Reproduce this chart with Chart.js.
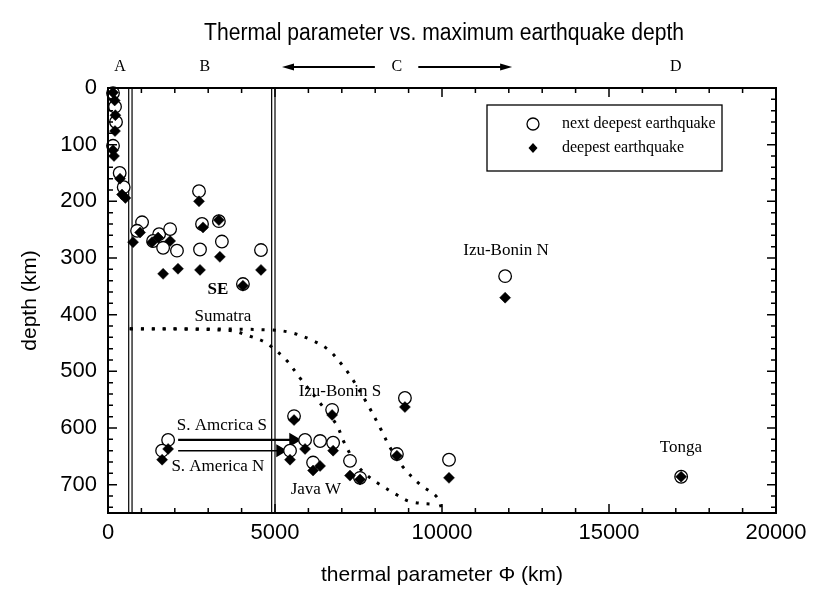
<!DOCTYPE html>
<html><head><meta charset="utf-8">
<script src="https://cdn.jsdelivr.net/npm/chart.js@4.4.0/dist/chart.umd.min.js"></script>
<style>html,body{margin:0;padding:0;background:#fff}#wrap{width:838px;height:612px;position:relative}</style>
</head><body><div id="wrap"><canvas id="c"></canvas></div>
<script>
// ---- data ----
const xTickLabels = ['0','5000','10000','15000','20000'];
const yTickLabels = ['0','100','200','300','400','500','600','700'];
const xMinorStep = 1000;
const yMinorStep = 20;

// next deepest earthquake (open circles): [thermal parameter km, depth km]
const nextDeepest = [
  [150,9],[210,33],[240,60],[150,102],[350,150],[470,175],
  [1020,237],[870,252],[1530,258],[1860,249],[1350,270],[1650,282],[2065,287],
  [2755,285],[3410,271],[4580,286],[3320,235],[2815,240],[2725,182],[4040,346],
  [11890,332],
  [5570,579],[6710,568],[5900,621],[6350,623],[6740,626],[5450,640],[6140,661],
  [7245,658],[7545,688],[8890,547],[8650,646],[10210,656],
  [1800,621],[1620,640],
  [17160,686]
];
// deepest earthquake (filled diamonds)
const deepest = [
  [150,8],[200,22],[220,48],[210,76],[150,110],[180,120],[360,160],[420,188],[520,194],
  [750,272],[960,255],[1320,272],[1500,264],[1860,270],[1650,328],[2095,319],
  [2755,321],[3350,298],[4580,321],[4040,349],[3320,233],[2845,246],[2725,200],
  [11890,370],
  [5570,586],[6710,577],[5900,637],[6740,640],[5450,656],[6140,675],[6350,667],
  [7245,684],[7545,691],[8890,563],[8650,649],[10210,688],
  [1800,637],[1620,656],
  [17160,686]
];
// dotted boundary curves
const curveOuter = [[650,425],[2400,425],[4900,427],[5500,432],[6100,445],[6600,462],[7000,488],[7300,512],[7750,556],[8150,600],[8450,635],[8850,670],[9350,700],[9850,722],[10000,745]];
const curveInner = [[650,425],[3650,428],[4250,438],[4650,447],[4900,457],[5350,481],[5750,512],[6350,556],[6850,595],[7050,623],[7450,665],[7850,688],[8150,700],[8650,718],[9050,730],[9850,735]];
// regime boundaries (double vertical lines)
const boundaryX = [620,720,4900,5000];
// S. America arrows
const arrowS = [[2100,621],[5550,621]];
const arrowN = [[2100,640],[5150,640]];
// text labels [text, x, depth, bold]
const annotations = [
  ['SE',3290,356,true],['Sumatra',3440,404,false],['Izu-Bonin N',11915,286,false],
  ['Izu-Bonin S',6945,535,false],['S. Amcrica S',3410,596,false],['S. America N',3290,668,false],
  ['Java W',6225,709,false],['Tonga',17155,635,false]
];
const regimeLabels = [['A',360],['B',2900],['C',8650],['D',17000]];
const regimeArrows = [[7990,5210],[9290,12100]];

const pts = a => a.map(p => ({x:p[0], y:p[1]}));
const serif = '"Liberation Serif","Times New Roman",serif';
const sans = '"Liberation Sans",Arial,Helvetica,sans-serif';

const datasets = [
  {label:'deepest earthquake', data:pts(deepest), pointStyle:'rectRot', pointRadius:5.5, pointHoverRadius:5.5,
   backgroundColor:'#000', borderColor:'#000', borderWidth:0.5, clip:false},
  {label:'next deepest earthquake', data:pts(nextDeepest), pointStyle:'circle', pointRadius:6.3, pointHoverRadius:6.3,
   backgroundColor:'#fff', borderColor:'#000', borderWidth:1.3, clip:false},
  {type:'line', data:pts(arrowS), borderColor:'#000', borderWidth:2.2, pointStyle:'triangle', pointRadius:[0,6],
   pointRotation:90, pointBackgroundColor:'#000', pointBorderColor:'#000'},
  {type:'line', data:pts(arrowN), borderColor:'#000', borderWidth:1.5, pointStyle:'triangle', pointRadius:[0,6],
   pointRotation:90, pointBackgroundColor:'#000', pointBorderColor:'#000'},
  {type:'line', data:pts(curveOuter), borderColor:'#000', borderWidth:3, borderDash:[3,8], tension:0.35, pointRadius:0},
  {type:'line', data:pts(curveInner), borderColor:'#000', borderWidth:3, borderDash:[3,8], tension:0.35, pointRadius:0}
];
boundaryX.forEach(v => datasets.push({type:'line', data:[{x:v,y:0},{x:v,y:750}], borderColor:'#000', borderWidth:1.2, pointRadius:0}));

const decor = {
  id:'decor',
  afterDraw(chart){
    const ctx = chart.ctx, a = chart.chartArea, xs = chart.scales.x, ys = chart.scales.y;
    ctx.save();
    ctx.strokeStyle = '#000'; ctx.fillStyle = '#000';
    // frame
    ctx.lineWidth = 2;
    ctx.strokeRect(a.left, a.top, a.right - a.left, a.bottom - a.top);
    // ticks
    ctx.lineWidth = 1.5;
    ctx.beginPath();
    for (let v = xs.min; v <= xs.max; v += xMinorStep) {
      const px = xs.getPixelForValue(v), L = (v % 5000 === 0) ? 9 : 5;
      ctx.moveTo(px, a.bottom); ctx.lineTo(px, a.bottom - L);
      ctx.moveTo(px, a.top); ctx.lineTo(px, a.top + L);
    }
    for (let v = ys.min; v <= ys.max; v += yMinorStep) {
      const py = ys.getPixelForValue(v), L = (v % 100 === 0) ? 9 : 5;
      ctx.moveTo(a.left, py); ctx.lineTo(a.left + L, py);
      ctx.moveTo(a.right, py); ctx.lineTo(a.right - L, py);
    }
    ctx.stroke();
    // title
    ctx.textAlign = 'center'; ctx.textBaseline = 'middle';
    ctx.font = '23px ' + sans;
    ctx.fillText('Thermal parameter vs. maximum earthquake depth', 444, 34, 480);
    // regime labels
    ctx.font = '16px ' + serif;
    regimeLabels.forEach(r => ctx.fillText(r[0], xs.getPixelForValue(r[1]), 67));
    ctx.lineWidth = 1.8;
    regimeArrows.forEach(r => {
      const x0 = xs.getPixelForValue(r[0]), x1 = xs.getPixelForValue(r[1]), y = 67;
      const d = Math.sign(x1 - x0);
      ctx.beginPath(); ctx.moveTo(x0, y); ctx.lineTo(x1 - d*8, y); ctx.stroke();
      ctx.beginPath(); ctx.moveTo(x1, y); ctx.lineTo(x1 - d*12, y - 3.5); ctx.lineTo(x1 - d*12, y + 3.5); ctx.closePath(); ctx.fill();
    });
    // annotations
    annotations.forEach(t => {
      ctx.font = (t[3] ? 'bold ' : '') + '17px ' + serif;
      ctx.fillText(t[0], xs.getPixelForValue(t[1]), ys.getPixelForValue(t[2]));
    });
    // legend
    ctx.lineWidth = 1.3;
    ctx.strokeRect(487, 105, 235, 66);
    ctx.beginPath(); ctx.arc(533, 124, 6, 0, Math.PI*2); ctx.fillStyle = '#fff'; ctx.fill(); ctx.stroke();
    ctx.fillStyle = '#000';
    ctx.beginPath(); ctx.moveTo(533, 143); ctx.lineTo(537.5, 148); ctx.lineTo(533, 153); ctx.lineTo(528.5, 148); ctx.closePath(); ctx.fill();
    ctx.textAlign = 'left'; ctx.font = '16px ' + serif;
    ctx.fillText('next deepest earthquake', 562, 124);
    ctx.fillText('deepest earthquake', 562, 148);
    ctx.restore();
  }
};

const tickLabel = (list) => (v) => list.includes(String(v)) ? String(v) : '';

new Chart(document.getElementById('c'), {
  type:'scatter',
  data:{datasets},
  options:{
    responsive:true, maintainAspectRatio:false, animation:false,
    layout:{padding:{top:88, right:62, left:0, bottom:0}},
    plugins:{legend:{display:false}, title:{display:false}, tooltip:{enabled:false}},
    scales:{
      x:{type:'linear', min:0, max:20000,
         grid:{display:false, drawTicks:false}, border:{display:false},
         ticks:{stepSize:5000, includeBounds:false, padding:7, color:'#000', font:{family:sans, size:22},
                callback:tickLabel(xTickLabels)},
         title:{display:true, text:'thermal parameter \u03A6 (km)', color:'#000', font:{family:sans, size:21}, padding:{top:0,bottom:24}},
         afterFit:s=>{s.height = 99;}},
      y:{type:'linear', min:0, max:750, reverse:true,
         grid:{display:false, drawTicks:false}, border:{display:false},
         ticks:{stepSize:100, includeBounds:false, padding:11, color:'#000', font:{family:sans, size:22},
                callback:tickLabel(yTickLabels)},
         title:{display:true, text:'depth (km)', color:'#000', font:{family:sans, size:21}, padding:{top:18,bottom:0}},
         afterFit:s=>{s.width = 108;}}
    }
  },
  plugins:[decor]
});
</script></body></html>
